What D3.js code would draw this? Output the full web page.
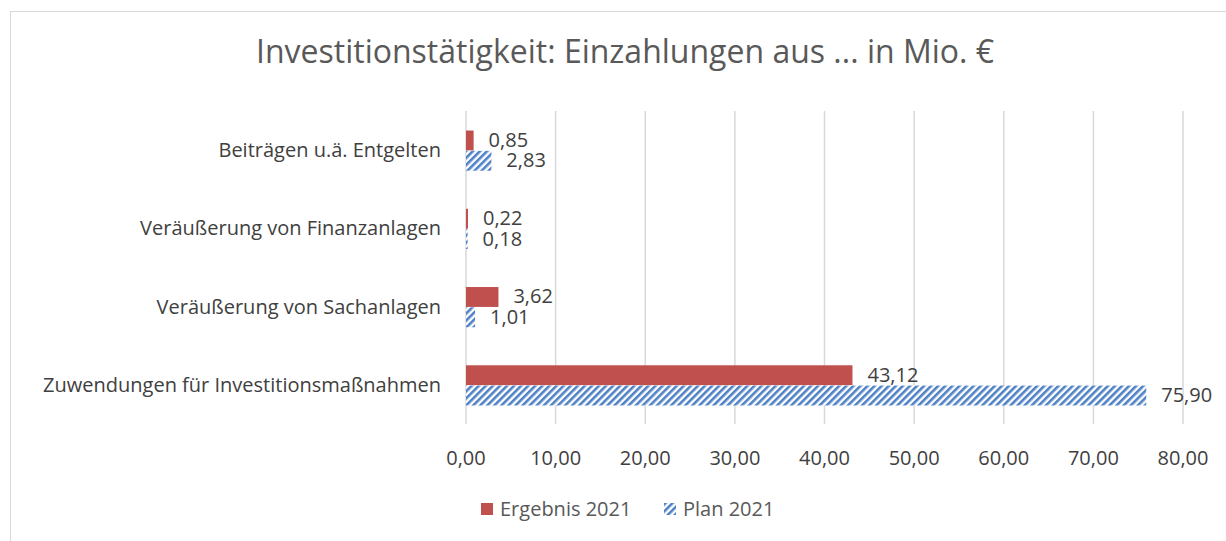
<!DOCTYPE html>
<html>
<head>
<meta charset="utf-8">
<script src="https://cdn.jsdelivr.net/npm/d3@7"></script>
<style>
  body { margin: 0; background: #fff; }
  text { font-family: "Open Sans", sans-serif; }
</style>
</head>
<body>
<script>
// data
var categories = ["Beiträgen u.ä. Entgelten", "Veräußerung von Finanzanlagen", "Veräußerung von Sachanlagen", "Zuwendungen für Investitionsmaßnahmen"];
var ergebnis2021 = [0.85, 0.22, 3.62, 43.12];
var plan2021 = [2.83, 0.18, 1.01, 75.90];
var seriesNames = ["Ergebnis 2021", "Plan 2021"];
var xTicks = [0, 10, 20, 30, 40, 50, 60, 70, 80];
var chartTitle = "Investitionstätigkeit: Einzahlungen aus ... in Mio. €";

var w = 1226, h = 541;
var fmt = function(v){ return d3.format(".2f")(v).replace(".", ","); };

var svg = d3.select("body").append("svg")
    .attr("width", w)
    .attr("height", h);

// hatch pattern for plan
var defs = svg.append("defs");
var pat = defs.append("pattern")
    .attr("id", "hatch")
    .attr("patternUnits", "userSpaceOnUse")
    .attr("width", 5)
    .attr("height", 5)
    .attr("patternTransform", "rotate(45)");
pat.append("rect").attr("width", 5).attr("height", 5).attr("fill", "#fff");
pat.append("rect").attr("width", 2.6).attr("height", 5).attr("fill", "#4f81c6");

// outer border
svg.append("rect")
    .attr("x", 10.5).attr("y", 11.5)
    .attr("width", w).attr("height", h)
    .attr("fill", "none")
    .attr("stroke", "#d9d9d9");

// title
svg.append("text")
    .attr("x", 625).attr("y", 63)
    .attr("text-anchor", "middle")
    .attr("font-size", 32)
    .attr("fill", "#595959")
    .text(chartTitle);

// scales
var xScale = d3.scaleLinear().domain([0, 80]).range([466, 1183]);
var yScale = d3.scaleBand().domain(categories).range([111, 424]);
var inner = d3.scaleBand().domain(seriesNames).range([yScale.bandwidth()/2 - 20, yScale.bandwidth()/2 + 21]).padding(0.02);

// gridlines
svg.append("g").selectAll("line")
    .data(xTicks.slice(1))
    .enter().append("line")
    .attr("x1", function(d){ return xScale(d); })
    .attr("x2", function(d){ return xScale(d); })
    .attr("y1", 111).attr("y2", 424)
    .attr("stroke", "#d9d9d9")
    .attr("stroke-width", 1.5);

// y axis line
svg.append("line")
    .attr("x1", xScale(0)).attr("x2", xScale(0))
    .attr("y1", 111).attr("y2", 424)
    .attr("stroke", "#d9d9d9")
    .attr("stroke-width", 1.5);

var rows = [];
categories.forEach(function(c, i){
    rows.push({cat: c, s: seriesNames[0], v: ergebnis2021[i]});
    rows.push({cat: c, s: seriesNames[1], v: plan2021[i]});
});

// bars
svg.append("g").selectAll("rect")
    .data(rows)
    .enter().append("rect")
    .attr("x", xScale(0))
    .attr("y", function(d){ return yScale(d.cat) + inner(d.s); })
    .attr("width", function(d){ return xScale(d.v) - xScale(0); })
    .attr("height", inner.bandwidth())
    .attr("fill", function(d){ return d.s === seriesNames[0] ? "#c0504d" : "url(#hatch)"; });

// value labels
svg.append("g").selectAll("text")
    .data(rows)
    .enter().append("text")
    .attr("x", function(d){ return xScale(d.v) + 15; })
    .attr("y", function(d){ return yScale(d.cat) + inner(d.s) + inner.bandwidth()/2 + 6.5; })
    .attr("font-size", 20)
    .attr("fill", "#404040")
    .text(function(d){ return fmt(d.v); });

// category labels
svg.append("g").selectAll("text")
    .data(categories)
    .enter().append("text")
    .attr("x", 441)
    .attr("y", function(d){ return yScale(d) + yScale.bandwidth()/2 + 7; })
    .attr("text-anchor", "end")
    .attr("font-size", 20)
    .attr("fill", "#404040")
    .text(function(d){ return d; });

// x tick labels
svg.append("g").selectAll("text")
    .data(xTicks)
    .enter().append("text")
    .attr("x", function(d){ return xScale(d); })
    .attr("y", 465)
    .attr("text-anchor", "middle")
    .attr("font-size", 20)
    .attr("fill", "#404040")
    .text(function(d){ return fmt(d); });

// legend
var legend = svg.append("g");
legend.append("rect").attr("x", 481).attr("y", 503).attr("width", 12).attr("height", 12).attr("fill", "#c0504d");
legend.append("text").attr("x", 500).attr("y", 516).attr("font-size", 20).attr("fill", "#595959").text(seriesNames[0]);
legend.append("rect").attr("x", 664).attr("y", 503).attr("width", 12).attr("height", 12).attr("fill", "url(#hatch)");
legend.append("text").attr("x", 683).attr("y", 516).attr("font-size", 20).attr("fill", "#595959").text(seriesNames[1]);
</script>
</body>
</html>
